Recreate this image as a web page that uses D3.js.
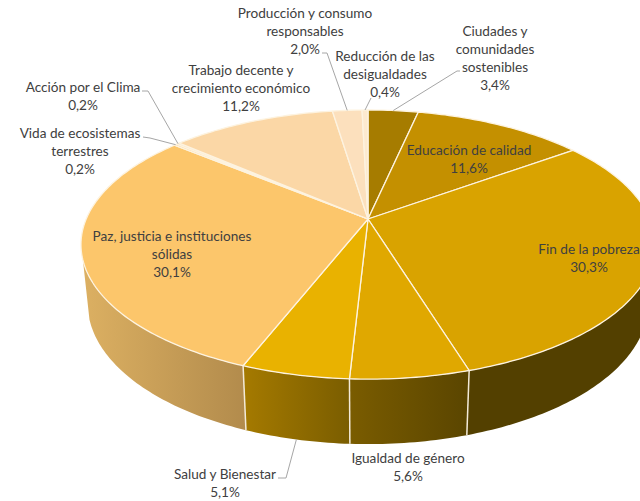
<!DOCTYPE html>
<html>
<head>
<meta charset="utf-8">
<script src="https://cdnjs.cloudflare.com/ajax/libs/d3/7.8.5/d3.min.js"></script>
<style>
  html, body { margin: 0; padding: 0; background: #fff; }
  text { font-family: Lato, sans-serif; font-size: 13.6px; fill: #404040; text-anchor: middle; }
</style>
</head>
<body>
<svg id="chart" width="640" height="501"></svg>
<script>
const categories = ["Ciudades y comunidades sostenibles", "Educación de calidad", "Fin de la pobreza",
    "Igualdad de género", "Salud y Bienestar", "Paz, justicia e instituciones sólidas",
    "Vida de ecosistemas terrestres", "Acción por el Clima", "Trabajo decente y crecimiento económico",
    "Producción y consumo responsables", "Reducción de las desigualdades"];
const values = [3.4, 11.6, 30.3, 5.6, 5.1, 30.1, 0.2, 0.2, 11.2, 2.0, 0.4];

const topColors = ["#a67c00", "#c49000", "#d9a300", "#e0a800", "#e9b200", "#fcc66b",
    "#fcd48f", "#fbe3c0", "#fbd7a6", "#fce0bd", "#fdeacf"];
const wallColors = [null, null, ["#534000", "#534000"], ["#7a5c00", "#5a4500"], ["#a57a00", "#7a5d00"],
    ["#dcb062", "#b28b4c"], null, null, null, null, null];

// wrapped label text, one entry per slice
const labelLines = [["Ciudades y", "comunidades", "sostenibles"], ["Educación de calidad"], ["Fin de la pobreza"],
    ["Igualdad de género"], ["Salud y Bienestar"], ["Paz, justicia e instituciones", "sólidas"],
    ["Vida de ecosistemas", "terrestres"], ["Acción por el Clima"], ["Trabajo decente y", "crecimiento económico"],
    ["Producción y consumo", "responsables"], ["Reducción de las", "desigualdades"]];
const labelX = [495, 469, 589, 408, 225, 172, 80, 83, 241, 305, 385];
const labelY = [36, 155, 254, 463, 479, 241, 138, 92, 75, 18, 61];
// leader elbows, null where the slice has no leader
const leaders = [[[457, 71], [460, 71]], null, null, null, [[286, 478], [278, 478]], null,
    [[150, 138], [143, 137]], [[148, 91], [142, 91]], null, [[327, 53], [322, 53]], [[371, 98]]];

const svg = d3.select("#chart");
const defs = svg.append("defs");

// tilted disc with perspective: angle 0 at the top, going clockwise
const cx = 368, cy = 219, rx = 281.8, ry = 129.7, persp = 0.19;
function project(a) {
    const u = Math.sin(a), v = -Math.cos(a), w = 1 - persp * v;
    return [cx + rx * u / w, cy + ry * v / w];
}
function projectBottom(a) {
    const p = project(a), v = -Math.cos(a);
    return [cx + (p[0] - cx) * 0.977, p[1] + 57 + 8 * v];
}
function sample(fn, a0, a1) {
    const n = Math.max(2, Math.ceil(Math.abs(a1 - a0) * 60));
    return d3.range(n + 1).map(i => fn(a0 + (a1 - a0) * i / n));
}

const pie = d3.pie().sort(null);
const slices = pie(values);
const line = d3.line();

// side walls first, only where the disc edge is visible from the front
const edge = Math.acos(-0.3);
const front = [edge, Math.PI * 2 - edge];
const walls = slices
    .map((d, i) => ({ i, a0: Math.max(d.startAngle, front[0]), a1: Math.min(d.endAngle, front[1]) }))
    .filter(d => d.a1 > d.a0 && wallColors[d.i]);

walls.forEach(d => {
    const grad = defs.append("linearGradient").attr("id", "wall" + d.i);
    grad.append("stop").attr("offset", "0%").attr("stop-color", wallColors[d.i][0]);
    grad.append("stop").attr("offset", "100%").attr("stop-color", wallColors[d.i][1]);
});

svg.append("g").selectAll("path")
    .data(walls)
    .join("path")
    .attr("d", d => line(sample(project, d.a0, d.a1).concat(sample(projectBottom, d.a1, d.a0))) + "Z")
    .attr("fill", d => `url(#wall${d.i})`);

// cream seams between the walls
svg.append("g").selectAll("path")
    .data(walls.slice(1))
    .join("path")
    .attr("d", d => line([project(d.a0), projectBottom(d.a0)]))
    .attr("stroke", "#f3ead8")
    .attr("stroke-width", 1.5)
    .attr("fill", "none");

// top faces
svg.append("g").selectAll("path")
    .data(slices)
    .join("path")
    .attr("d", d => line([[cx, cy]].concat(sample(project, d.startAngle, d.endAngle))) + "Z")
    .attr("fill", (d, i) => topColors[i])
    .attr("stroke", "#fdf3e0")
    .attr("stroke-width", 1.3)
    .attr("stroke-linejoin", "round");

// leader lines start on the rim, Salud starts on the lower edge
svg.append("g").selectAll("path")
    .data(slices.filter((d, i) => leaders[i]))
    .join("path")
    .attr("d", d => {
        const mid = (d.startAngle + d.endAngle) / 2;
        const start = d.index === 4 ? projectBottom(mid) : project(mid);
        return line([start].concat(leaders[d.index]));
    })
    .attr("fill", "none")
    .attr("stroke", "#a6a6a6")
    .attr("stroke-width", 1);

// labels
const labels = svg.append("g").selectAll("text")
    .data(categories)
    .join("text")
    .attr("x", (d, i) => labelX[i])
    .attr("y", (d, i) => labelY[i]);
labels.each(function (d, i) {
    const rows = labelLines[i].concat([values[i].toFixed(1).replace(".", ",") + "%"]);
    d3.select(this).selectAll("tspan")
        .data(rows)
        .join("tspan")
        .attr("x", labelX[i])
        .attr("dy", (r, k) => k ? 18 : 0)
        .text(r => r);
});
</script>
</body>
</html>
